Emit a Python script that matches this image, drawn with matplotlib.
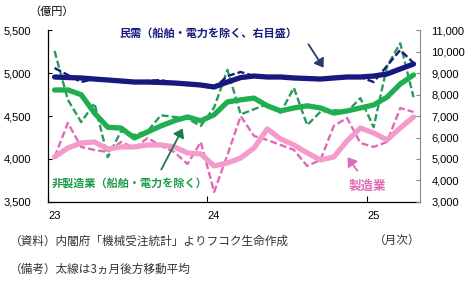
import matplotlib
matplotlib.use("Agg")
import matplotlib.pyplot as plt

# 月次データ（2023年1月〜2025年4月）
x_labels = ["23", "24", "25"]
label_pos = [0, 12, 24]

# 非製造業（船舶・電力を除く）左目盛
nonmfg = [5260, 4690, 4430, 4650, 4020, 4325, 4280, 4325, 4510, 4490, 4470, 4385, 4600, 5040,
          4520, 4580, 4640, 4540, 4830, 4395, 4550, 4570, 4550, 4710, 4370, 5080, 5350, 4720]
nonmfg_ma = [4805, 4805, 4750, 4535, 4370, 4360, 4245, 4315, 4385, 4445, 4490, 4445, 4515, 4665,
             4690, 4710, 4620, 4560, 4595, 4620, 4595, 4535, 4560, 4595, 4630, 4720, 4875, 4980]

# 製造業 左目盛
mfg = [4023, 4420, 4140, 4105, 4081, 4198, 4128, 4245, 4151, 4081, 3941, 4198, 3614, 4046,
       4500, 4268, 4221, 4163, 4105, 3918, 3988, 4385, 4478, 4186, 4140, 4198, 4594, 4548]
mfg_ma = [4023, 4128, 4186, 4198, 4116, 4140, 4140, 4163, 4163, 4140, 4070, 4058, 3918, 3953,
          4011, 4128, 4350, 4233, 4163, 4070, 3988, 4023, 4210, 4361, 4303, 4222, 4361, 4490]

# 民需（船舶・電力を除く）右目盛
core = [9245, 8920, 8590, 8730, 8685, 8590, 8545, 8640, 8685, 8545, 8450, 8405, 8310, 8870,
        9060, 8870, 8780, 8825, 8730, 8780, 8730, 8825, 8870, 8825, 8590, 9340, 10085, 9480]
core_ma = [8825, 8800, 8780, 8730, 8685, 8640, 8590, 8590, 8570, 8545, 8500, 8450, 8360, 8590,
           8800, 8870, 8825, 8825, 8780, 8755, 8730, 8780, 8825, 8825, 8870, 8965, 9200, 9430]

left_ticks = [3500, 4000, 4500, 5000, 5500]
right_ticks = [3000, 4000, 5000, 6000, 7000, 8000, 9000, 10000, 11000]

JP = ["Noto Sans CJK JP", "DejaVu Sans"]
NUM = "Liberation Sans"

NAVY = "#17197e"
GREEN = "#1fae50"
GREEN_D = "#2a9a5a"
PINK = "#f49bcc"
PINK_D = "#e06ab8"

x = list(range(len(nonmfg)))

fig = plt.figure(figsize=(4.7, 2.87), dpi=100)
ax = fig.add_axes([0.102, 0.297, 0.792, 0.597])
ax2 = ax.twinx()

ax.plot(x, nonmfg, color=GREEN_D, lw=1.7, dashes=(3, 1.3))
ax.plot(x, nonmfg_ma, color=GREEN, lw=3.8, solid_capstyle="round")
ax.plot(x, mfg, color=PINK_D, lw=1.7, dashes=(3, 1.3))
ax.plot(x, mfg_ma, color=PINK, lw=3.8, solid_capstyle="round")
ax2.plot(x, core, color=NAVY, lw=1.7, dashes=(3, 1.3))
ax2.plot(x, core_ma, color=NAVY, lw=3.8, solid_capstyle="round")

ax.set_xlim(-0.5, 27.5)
ax.set_ylim(3500, 5500)
ax2.set_ylim(3000, 11000)

ax.set_yticks(left_ticks)
ax.set_yticklabels([f"{v:,}" for v in left_ticks], fontsize=8, family=NUM)
ax2.set_yticks(right_ticks)
ax2.set_yticklabels([f"{v:,}" for v in right_ticks], fontsize=8, family=NUM)

ax.set_xticks([-0.5, 11.5, 23.5])
ax.set_xticklabels([])
ax.set_xticks(label_pos, minor=True)
ax.set_xticklabels(x_labels, minor=True, fontsize=8, family=NUM)
ax.tick_params(axis="x", which="major", direction="in", length=4, width=0.8)
ax.tick_params(axis="x", which="minor", length=0, pad=7)
ax.tick_params(axis="y", direction="in", length=3, width=0.8, pad=12)
ax2.tick_params(axis="y", direction="in", length=3, width=0.8, pad=8, color="#888888")

for a in (ax, ax2):
    a.spines["top"].set_visible(False)
ax.spines["right"].set_visible(False)
ax2.spines["left"].set_visible(False)
ax2.spines["bottom"].set_visible(False)
ax2.spines["right"].set_color("#888888")
ax.spines["left"].set_linewidth(0.9)
ax.spines["bottom"].set_linewidth(0.9)

# 注記
fig.text(0.062, 0.958, "（億円）", fontsize=8, family=JP, ha="left", va="center")
fig.text(0.255, 0.885, "民需（船舶・電力を除く、右目盛）", fontsize=8, family=JP,
         color=NAVY, fontweight="bold", ha="left", va="center")
fig.text(0.11, 0.362, "非製造業（船舶・電力を除く）", fontsize=8, family=JP,
         color="#1a9a4a", fontweight="bold", ha="left", va="center")
fig.text(0.742, 0.352, "製造業", fontsize=9, family=JP,
         color=PINK_D, fontweight="bold", ha="left", va="center")

fig.add_artist(matplotlib.patches.FancyArrowPatch(
    (307 / 470, 1 - 42 / 287), (325 / 470, 1 - 70 / 287), transform=fig.transFigure,
    arrowstyle="-|>,head_length=5,head_width=3.5", color="#2a3a6e", lw=1.3))
fig.add_artist(matplotlib.patches.FancyArrowPatch(
    (160 / 470, 1 - 172 / 287), (184 / 470, 1 - 126 / 287), transform=fig.transFigure,
    arrowstyle="-|>,head_length=5,head_width=3.5", color="#1d7a4a", lw=1.3))
fig.add_artist(matplotlib.patches.FancyArrowPatch(
    (359 / 470, 1 - 173 / 287), (346 / 470, 1 - 155 / 287), transform=fig.transFigure,
    arrowstyle="-|>,head_length=5,head_width=3.5", color=PINK_D, lw=1.3))

fig.text(0.02, 0.16, "（資料）内閣府「機械受注統計」よりフコク生命作成", fontsize=8.4,
         family=JP, color="#333333", ha="left", va="center")
fig.text(0.895, 0.16, "（月次）", fontsize=8.4, family=JP, color="#333333",
         ha="right", va="center")
fig.text(0.02, 0.06, "（備考）太線は3ヵ月後方移動平均", fontsize=8.4, family=JP,
         color="#333333", ha="left", va="center")

fig.savefig("out.png", dpi=100, facecolor="white")
